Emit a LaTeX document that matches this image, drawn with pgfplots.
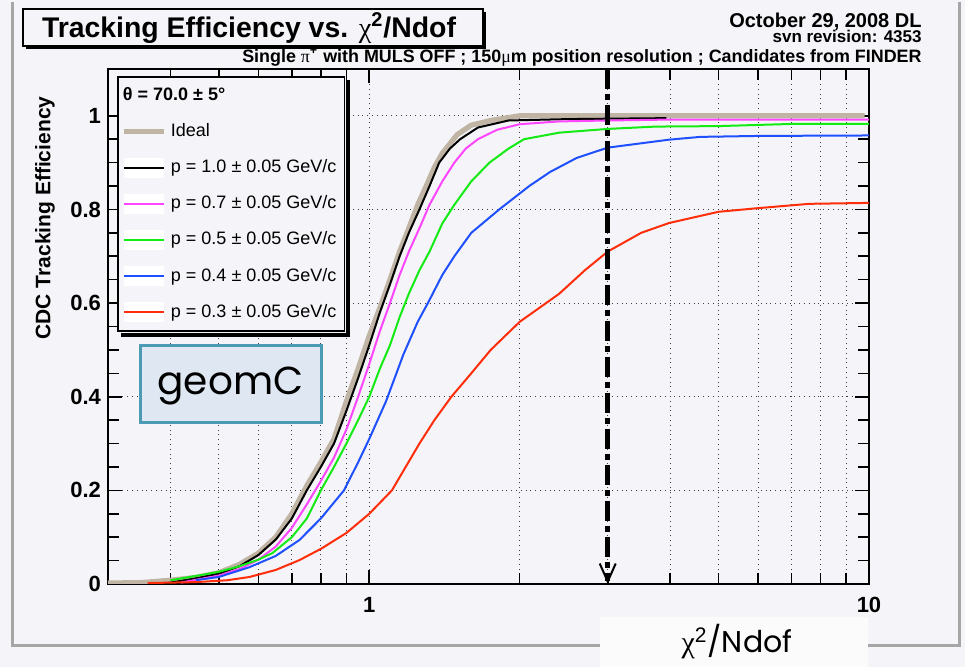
\documentclass[border=0pt]{standalone}
\usepackage{fontspec}
\setmainfont{Liberation Sans}
\newfontfamily\symf{Liberation Serif}
\newfontfamily\comic{Poppins}
\usepackage{pgfplots}
\pgfplotsset{compat=1.18}
\usetikzlibrary{arrows.meta,shadows,calc}
\definecolor{bg}{RGB}{245,244,248}
\definecolor{idealc}{RGB}{192,180,164}
\definecolor{pmag}{RGB}{255,70,255}
\definecolor{pgreen}{RGB}{20,235,20}
\definecolor{pblue}{RGB}{30,80,255}
\definecolor{pred}{RGB}{255,45,10}
\definecolor{geofill}{RGB}{223,232,242}
\definecolor{geoedge}{RGB}{74,155,179}
\pgfplotsset{
  boximg/.style={legend image code/.code={\path[draw=none,fill=white] (0pt,-5pt) rectangle (20pt,5pt);
    \draw[##1] (0pt,0pt) -- (20pt,0pt);}},
  plainimg/.style={legend image code/.code={\draw[##1] (0pt,0pt) -- (20pt,0pt);}},
}

\begin{document}
\begin{tikzpicture}
% page frame, 1 px of the reference = 0.5pt, y running downwards
\begin{scope}[x=0.5pt,y=-0.5pt,shift={(0pt,333.5pt)}]
  \fill[bg] (0,0) rectangle (965,667);
  \draw[black!35, line width=1.5pt] (12,2) -- (12,646) -- (959,646) -- (959,2);
  % title box with its shadow
  \fill[black] (26,12) rectangle (486,49);
  \draw[black, line width=0.8pt, fill=bg] (23,9) rectangle (483,46);
  \node[font=\bfseries\fontsize{14.2}{15}\selectfont] at (249,28)
        {Tracking Efficiency vs. {\symf\mdseries χ}\textsuperscript{2}/Ndof};
  \node[anchor=base east, font=\bfseries\fontsize{10}{11}\selectfont, inner sep=0pt] at (922,27.5) {October 29, 2008 DL};
  \node[anchor=base east, font=\bfseries\fontsize{8.5}{10}\selectfont, inner sep=0pt] at (922,43) {svn revision: 4353};
  \node[anchor=base east, font=\bfseries\fontsize{8.95}{10}\selectfont, inner sep=0pt] at (922,62.5)
        {Single {\symf\mdseries π}\textsuperscript{+} with MULS OFF ; 150{\symf\mdseries μ}m position resolution ; Candidates from FINDER};
  \node[rotate=90, font=\bfseries\fontsize{10.5}{12}\selectfont] at (45,218) {CDC Tracking Efficiency};
\end{scope}

\begin{axis}[
  at={(54pt,41.5pt)}, anchor=south west,
  width=380.5pt, height=257.5pt, scale only axis,
  xmode=log, xmin=0.3, xmax=10, ymin=0, ymax=1.1,
  axis background/.style={fill=bg},
  axis line style={line width=0.9pt},
  xtick={1,10}, xticklabels={1,10},
  minor xtick={0.4,0.5,0.6,0.7,0.8,0.9,2,3,4,5,6,7,8,9},
  ytick={0,0.2,0.4,0.6,0.8,1}, yticklabels={0,0.2,0.4,0.6,0.8,1},
  minor y tick num=3,
  tick pos=both, tick align=inside,
  major tick length=7pt, minor tick length=5.5pt,
  tick style={black, line width=0.8pt},
  xmajorgrids, xminorgrids, ymajorgrids,
  major grid style={black!75, dotted, line width=0.5pt},
  minor grid style={black!75, dotted, line width=0.5pt},
  /pgf/number format/assume math mode=true,
  ticklabel style={font=\bfseries\fontsize{11}{12}\selectfont},
  xticklabel style={yshift=-3pt},
  legend style={name=leg, at={(0.0118,0.9864)}, anchor=north west, draw=black, line width=0.8pt,
    fill=bg, font=\fontsize{9}{10}\selectfont, row sep=6pt,
    inner xsep=2pt, inner ysep=3.5pt,
    /tikz/every even column/.append style={column sep=5.5pt}},
  legend cell align=left,
  boximg,
  no markers,
]
\addlegendimage{empty legend}
\addlegendentry{\hspace*{-24pt}\textbf{θ = 70.0 ± 5°}}

\addplot[idealc, line width=2.6pt, plainimg] coordinates {
(0.30,0.002) (0.35,0.003) (0.40,0.008) (0.45,0.014) (0.50,0.024) (0.55,0.042)
(0.60,0.066) (0.65,0.10) (0.70,0.15) (0.75,0.21) (0.80,0.26) (0.85,0.31)
(0.90,0.39) (0.95,0.46) (1.00,0.53) (1.05,0.59) (1.10,0.65) (1.15,0.71)
(1.20,0.76) (1.25,0.81) (1.30,0.85) (1.35,0.89) (1.40,0.92) (1.50,0.96)
(1.60,0.98) (1.75,0.99) (2.00,1.0) (9.8,1.0)};
\addlegendentry{Ideal}

\addplot[black, line width=1pt] coordinates {
(0.39,0.001) (0.45,0.012) (0.50,0.022) (0.55,0.038) (0.60,0.062) (0.65,0.095)
(0.70,0.14) (0.75,0.20) (0.80,0.25) (0.85,0.30) (0.90,0.37) (0.95,0.44)
(1.00,0.51) (1.05,0.58) (1.10,0.64) (1.15,0.70) (1.20,0.75) (1.26,0.80)
(1.32,0.85) (1.38,0.90) (1.45,0.93) (1.52,0.95) (1.65,0.975) (1.90,0.99)
(2.5,0.993) (3.93,0.995)};
\addlegendentry{p = 1.0 ± 0.05 GeV/c}

\addplot[pmag, line width=1pt] coordinates {
(0.42,0.003) (0.45,0.009) (0.50,0.018) (0.55,0.032) (0.60,0.052) (0.65,0.08)
(0.70,0.12) (0.75,0.17) (0.80,0.22) (0.85,0.27) (0.90,0.33) (0.95,0.40)
(1.00,0.47) (1.05,0.54) (1.10,0.60) (1.15,0.66) (1.20,0.71) (1.26,0.76)
(1.32,0.81) (1.40,0.86) (1.48,0.90) (1.56,0.93) (1.65,0.95) (1.80,0.97)
(2.0,0.982) (2.4,0.988) (3,0.990) (4,0.992) (10,0.992)};
\addlegendentry{p = 0.7 ± 0.05 GeV/c}

\addplot[pgreen, line width=1pt] coordinates {
(0.40,0.008) (0.46,0.019) (0.50,0.026) (0.55,0.038) (0.60,0.052) (0.64,0.066)
(0.70,0.10) (0.75,0.14) (0.80,0.20) (0.85,0.25) (0.90,0.30) (0.95,0.35)
(1.00,0.40) (1.05,0.46) (1.10,0.51) (1.15,0.57) (1.20,0.62) (1.26,0.67)
(1.32,0.71) (1.40,0.77) (1.48,0.81) (1.60,0.86) (1.74,0.90) (1.90,0.93)
(2.04,0.95) (2.4,0.964) (3.0,0.972) (3.75,0.977) (5,0.978) (7.2,0.983) (10,0.983)};
\addlegendentry{p = 0.5 ± 0.05 GeV/c}

\addplot[pblue, line width=1pt] coordinates {
(0.45,0.008) (0.50,0.015) (0.576,0.036) (0.65,0.06) (0.725,0.094) (0.80,0.14)
(0.89,0.20) (0.95,0.26) (1.00,0.31) (1.08,0.39) (1.17,0.49) (1.25,0.56)
(1.31,0.60) (1.40,0.66) (1.48,0.70) (1.60,0.75) (1.82,0.80) (2.09,0.85)
(2.3,0.88) (2.6,0.91) (3.0,0.932) (3.98,0.949) (4.6,0.955) (6,0.957) (10,0.958)};
\addlegendentry{p = 0.4 ± 0.05 GeV/c}

\addplot[pred, line width=1pt] coordinates {
(0.36,0.002) (0.45,0.004) (0.52,0.008) (0.576,0.015) (0.65,0.03) (0.725,0.051)
(0.80,0.075) (0.90,0.109) (1.0,0.15) (1.11,0.20) (1.26,0.30) (1.35,0.35)
(1.46,0.40) (1.60,0.45) (1.75,0.50) (2.0,0.56) (2.4,0.62) (2.7,0.67)
(3.0,0.71) (3.5,0.75) (3.98,0.771) (5.0,0.795) (6.03,0.803) (7.6,0.812) (10,0.814)};
\addlegendentry{p = 0.3 ± 0.05 GeV/c}

\draw[black, line width=2.5pt, dash pattern=on 10pt off 2.5pt on 3pt off 2.5pt,
  -{Straight Barb[length=9pt,width=8pt,line width=1pt]}]
  (axis cs:3,1.1) -- (axis cs:3,0);
\end{axis}

% legend drop shadow
\fill[black] ($(leg.north east)+(0.4pt,-2pt)$) rectangle ($(leg.south east)+(2.4pt,-2.4pt)$);
\fill[black] ($(leg.south west)+(2pt,-0.4pt)$) rectangle ($(leg.south east)+(2.4pt,-2.4pt)$);

\begin{scope}[x=0.5pt,y=-0.5pt,shift={(0pt,333.5pt)}]
  \fill[white!60!bg] (600,617) rectangle (868,667);
  \node[font=\fontsize{15}{17}\selectfont] at (737,642) {{\symf χ}\textsuperscript{2}{\comic /Ndof}};
  \draw[geoedge, fill=geofill, line width=1.5pt] (140,346) rectangle (321,423);
  \node[font=\comic\fontsize{19.5}{22}\selectfont] at (230.5,386) {geomC};
  \pgfresetboundingbox
  \path (0,0) rectangle (965,667);
\end{scope}
\end{tikzpicture}
\end{document}
